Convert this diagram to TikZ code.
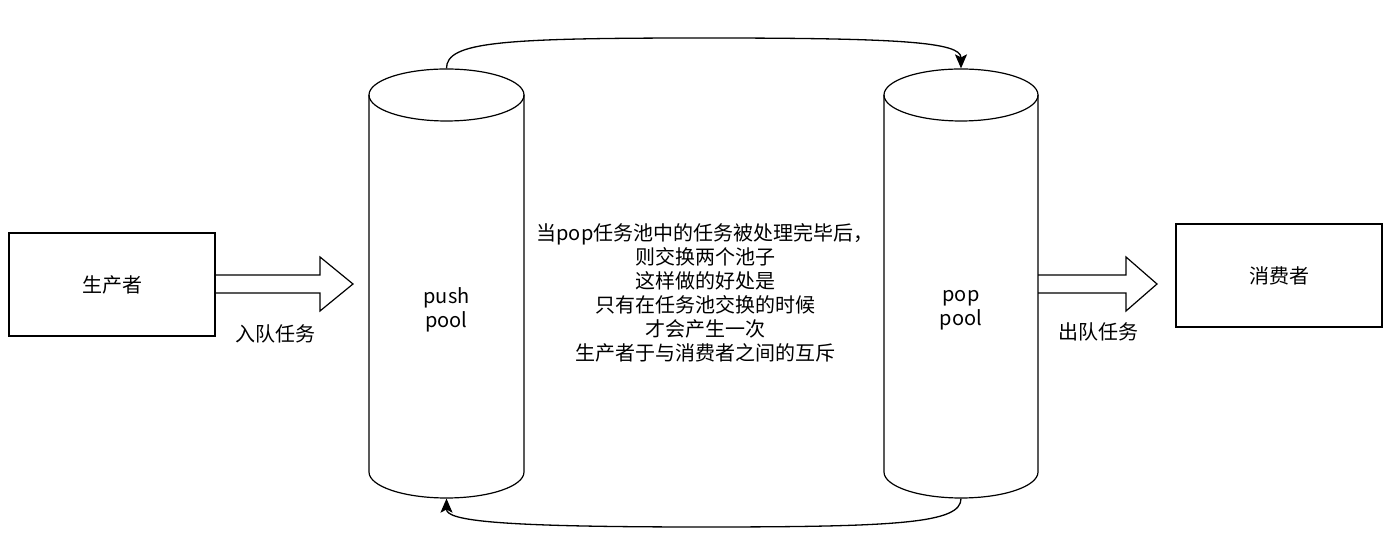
\documentclass[tikz,border=0pt]{standalone}
\usepackage{fontspec}
\setmainfont{Noto Sans CJK SC}
\usetikzlibrary{arrows.meta}
\begin{document}
\begin{tikzpicture}[x=1pt,y=1pt,
  line width=1.2pt,
  txt/.style={font=\fontsize{20pt}{24pt}\selectfont, align=center, inner sep=0pt},
  boxnode/.style={draw, minimum width=206pt, minimum height=103pt, inner sep=0pt, font=\fontsize{20pt}{24pt}\selectfont},
  cylnode/.style={minimum width=155pt, minimum height=429pt, inner sep=0pt},
  flow/.style={-{Stealth[length=14pt,width=12pt,inset=3pt]}, line width=1.3pt},
  blockarrow/.style={draw, line width=1.2pt, line join=miter}
]
\useasboundingbox (0,0) rectangle (1398,545);
\fill[white] (0,0) rectangle (1398,545);

% boxes
\node[boxnode] (prod) at (112,260.5) {生产者};
\node[boxnode] (cons) at (1279,269.5) {消费者};

% cylinders (anchor nodes)
\node[cylnode] (push) at (446.5,261.5) {};
\node[cylnode] (pop) at (961,261.5) {};

% push cylinder
\draw (369,450) -- (369,73) arc[start angle=180,end angle=360,x radius=77.5,y radius=26] -- (524,450);
\draw (446.5,450) ellipse [x radius=77.5,y radius=26];
% pop cylinder
\draw (884,450) -- (884,73) arc[start angle=180,end angle=360,x radius=77,y radius=26] -- (1038,450);
\draw (961,450) ellipse [x radius=77,y radius=26];

\node[txt] (pushlbl) at (446.5,235) {push\\pool};
\node[txt] (poplbl) at (961,235) {pop\\pool};

% block arrows
\draw[blockarrow] (prod.east |- 0,270) -- (320,270) -- (320,288) -- (353,261) -- (320,234) -- (320,252) -- (prod.east |- 0,252);
\draw[blockarrow] (1038,270) -- (1126,270) -- (1126,288) -- (1157,261) -- (1126,234) -- (1126,252) -- (1038,252);

\node[txt] (inq) at (275,211) {入队任务};
\node[txt] (outq) at (1098,213) {出队任务};

% middle text
\node[txt] (note) at (705,252.5) {当pop任务池中的任务被处理完毕后，\\则交换两个池子\\这样做的好处是\\只有在任务池交换的时候\\才会产生一次\\生产者于与消费者之间的互斥};

% curved connectors
\draw[flow] (push.north) .. controls (446.5,503) and (500,507) .. (704,507) .. controls (900,507) and (961,503) .. (pop.north);
\draw[flow] (pop.south) .. controls (961,22) and (900,18) .. (704,18) .. controls (500,18) and (446.5,24) .. (push.south);
\end{tikzpicture}
\end{document}
